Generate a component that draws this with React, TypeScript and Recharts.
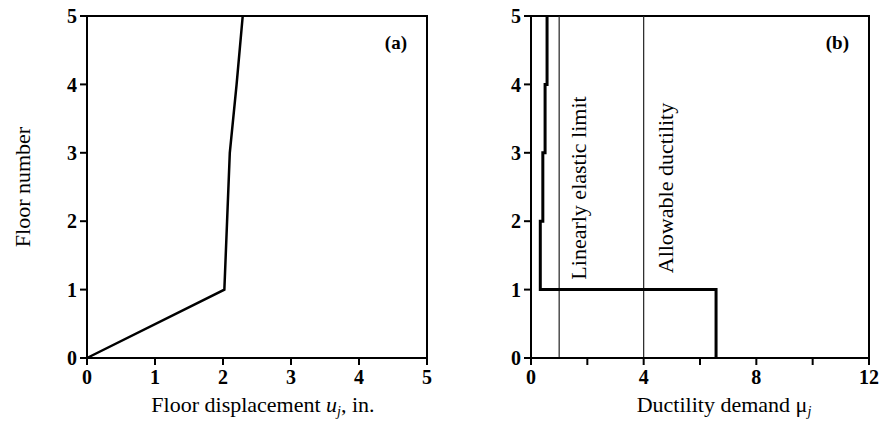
import {
  LineChart,
  Line,
  XAxis,
  YAxis,
  ReferenceArea,
  ReferenceLine,
} from "recharts";

// Panel (a): floor displacement profile
const floors = [0, 1, 2, 3, 4, 5];
const displacement = [0, 2.02, 2.06, 2.1, 2.2, 2.29];
const dispTicks = [0, 1, 2, 3, 4, 5];

// Panel (b): ductility demand per story (story 1 at bottom)
const storyDemand = [6.57, 0.33, 0.42, 0.5, 0.57];
const ductTicks = [0, 2, 4, 6, 8, 10, 12];
const ductLabelled = [0, 4, 8, 12];
const limitValues = [1, 4];
const limitLabels = ["Linearly elastic limit", "Allowable ductility"];

const floorTicks = [0, 1, 2, 3, 4, 5];

const FONT = "'Liberation Serif', 'Times New Roman', serif";

const dispData = floors.map((f, i) => ({ x: displacement[i], floor: f }));

// each story is drawn as a vertical run from floor i to floor i+1
const ductData = storyDemand.flatMap((d, i) => [
  { x: d, floor: floors[i] },
  { x: d, floor: floors[i + 1] },
]);

const tickStyle = {
  fill: "#000",
  fontSize: 20,
  fontWeight: 700,
  fontFamily: FONT,
};
const tickLine = { stroke: "#000", strokeWidth: 2 };
const axisLine = { stroke: "#000", strokeWidth: 2 };

const YTitle = (props: any) => {
  const vb = props.viewBox;
  const x = vb.x + 22;
  const y = vb.y + vb.height / 2;
  return (
    <text
      x={x}
      y={y}
      transform={`rotate(-90 ${x} ${y})`}
      textAnchor="middle"
      dominantBaseline="central"
      fontFamily={FONT}
      fontSize={22}
      fill="#000"
    >
      Floor number
    </text>
  );
};

const XTitle = (shift: number, kind: "a" | "b") => (props: any) => {
  const vb = props.viewBox;
  const x = vb.x + vb.width / 2 + shift;
  const y = vb.y + 54;
  return (
    <text
      x={x}
      y={y}
      textAnchor="middle"
      fontFamily={FONT}
      fontSize={22}
      fill="#000"
    >
      {kind === "a" ? (
        <>
          Floor displacement <tspan fontStyle="italic">u</tspan>
          <tspan fontStyle="italic" fontSize={14} dy={4}>
            j
          </tspan>
          <tspan dy={-4}>, in.</tspan>
        </>
      ) : (
        <>
          Ductility demand μ
          <tspan fontStyle="italic" fontSize={14} dy={4}>
            j
          </tspan>
        </>
      )}
    </text>
  );
};

const LimitLabel = (text: string, dx: number) => (props: any) => {
  const vb = props.viewBox;
  const x = vb.x + dx;
  const y = 188;
  return (
    <text
      x={x}
      y={y}
      transform={`rotate(-90 ${x} ${y})`}
      textAnchor="middle"
      dominantBaseline="central"
      fontFamily={FONT}
      fontSize={22}
      fill="#000"
    >
      {text}
    </text>
  );
};

const panelLabel = (value: string) => ({
  value,
  position: "insideTopRight" as const,
  offset: 20,
  fill: "#000",
  fontSize: 19,
  fontWeight: 700,
  fontFamily: FONT,
});

export default function App() {
  return (
    <div
      style={{
        position: "absolute",
        left: 0,
        top: 0,
        width: 883,
        height: 422,
        background: "#fff",
      }}
    >
      <div style={{ position: "absolute", left: 0, top: 0 }}>
        <LineChart
          width={445}
          height={422}
          data={dispData}
          margin={{ top: 16, right: 18, bottom: 0, left: 0 }}
        >
          <XAxis
            type="number"
            dataKey="x"
            domain={[0, 5]}
            ticks={dispTicks}
            tick={tickStyle}
            tickLine={tickLine}
            axisLine={axisLine}
            tickSize={7}
            tickMargin={5}
            height={64}
            label={XTitle(6, "a")}
          />
          <YAxis
            type="number"
            dataKey="floor"
            domain={[0, 5]}
            ticks={floorTicks}
            tick={tickStyle}
            tickLine={tickLine}
            axisLine={axisLine}
            tickSize={7}
            tickMargin={3}
            width={87}
            label={YTitle}
          />
          <ReferenceArea
            x1={0}
            x2={5}
            y1={0}
            y2={5}
            fill="none"
            stroke="#000"
            strokeWidth={2}
            label={panelLabel("(a)")}
          />
          <Line
            dataKey="floor"
            stroke="#000"
            strokeWidth={2.5}
            dot={false}
            isAnimationActive={false}
          />
        </LineChart>
      </div>
      <div style={{ position: "absolute", left: 445, top: 0 }}>
        <LineChart
          width={438}
          height={422}
          data={ductData}
          margin={{ top: 16, right: 14, bottom: 0, left: 0 }}
        >
          <XAxis
            type="number"
            dataKey="x"
            domain={[0, 12]}
            ticks={ductTicks}
            tickFormatter={(v: number) =>
              ductLabelled.includes(v) ? String(v) : ""
            }
            tick={tickStyle}
            tickLine={tickLine}
            axisLine={axisLine}
            tickSize={7}
            tickMargin={5}
            height={64}
            label={XTitle(24, "b")}
          />
          <YAxis
            type="number"
            dataKey="floor"
            domain={[0, 5]}
            ticks={floorTicks}
            tick={tickStyle}
            tickLine={tickLine}
            axisLine={axisLine}
            tickSize={7}
            tickMargin={3}
            width={86}
          />
          <ReferenceArea
            x1={0}
            x2={12}
            y1={0}
            y2={5}
            fill="none"
            stroke="#000"
            strokeWidth={2}
            label={panelLabel("(b)")}
          />
          {limitValues.map((v, i) => (
            <ReferenceLine
              key={v}
              x={v}
              stroke="#222"
              strokeWidth={1.2}
              label={LimitLabel(limitLabels[i], i === 0 ? 19 : 22)}
            />
          ))}
          <Line
            dataKey="floor"
            stroke="#000"
            strokeWidth={3}
            dot={false}
            isAnimationActive={false}
          />
        </LineChart>
      </div>
    </div>
  );
}
